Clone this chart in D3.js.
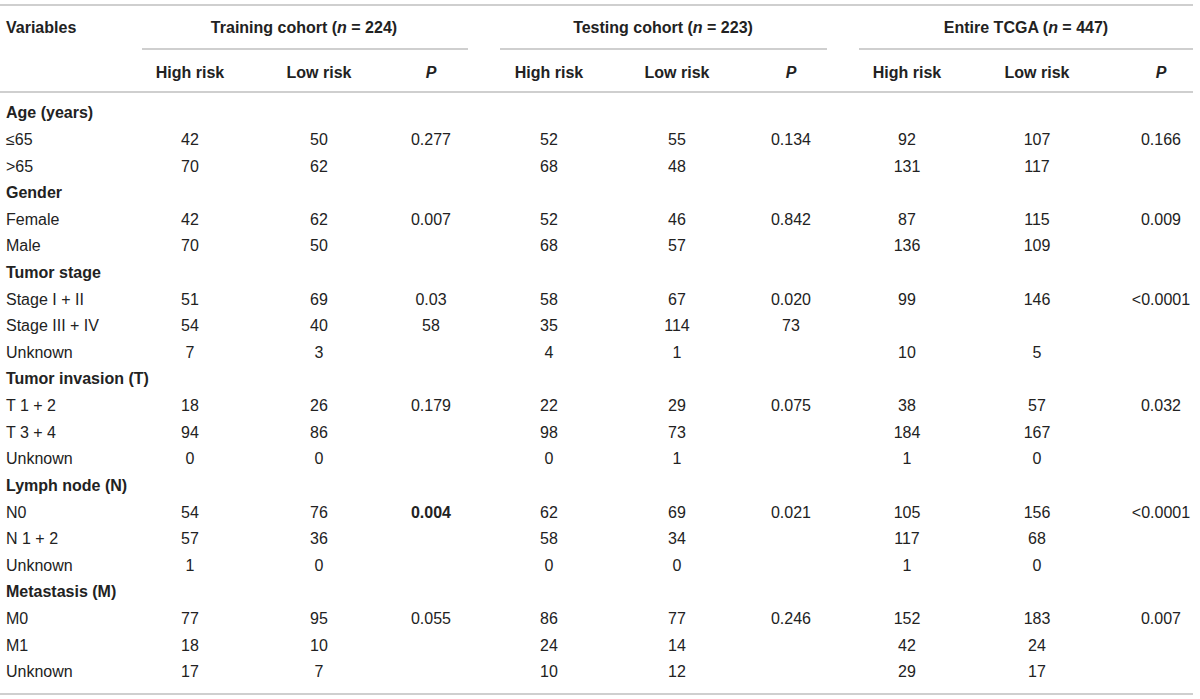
<!DOCTYPE html>
<html>
<head>
<meta charset="utf-8">
<script src="https://cdn.jsdelivr.net/npm/d3@7/dist/d3.min.js"></script>
<style>
  html, body { margin: 0; padding: 0; background: #fff; }
  svg { display: block; }
  text { font-family: "Liberation Sans", Arial, Helvetica, sans-serif; font-size: 16px; }
</style>
</head>
<body>
<svg id="chart" width="1200" height="699"></svg>
<script>
// ---- Data ----
const groups = ["Training cohort", "Testing cohort", "Entire TCGA"];
const groupN = [224, 223, 447];
const subHeaders = ["High risk", "Low risk", "P"];

const rowLabels = [
  "Age (years)", "≤65", ">65",
  "Gender", "Female", "Male",
  "Tumor stage", "Stage I + II", "Stage III + IV", "Unknown",
  "Tumor invasion (T)", "T 1 + 2", "T 3 + 4", "Unknown",
  "Lymph node (N)", "N0", "N 1 + 2", "Unknown",
  "Metastasis (M)", "M0", "M1", "Unknown"
];
const sectionRows = [0, 3, 6, 10, 14, 18];

// Each row: [high, low, P]
const training = [
  ["", "", ""], [42, 50, "0.277"], [70, 62, ""],
  ["", "", ""], [42, 62, "0.007"], [70, 50, ""],
  ["", "", ""], [51, 69, "0.03"], [54, 40, "58"], [7, 3, ""],
  ["", "", ""], [18, 26, "0.179"], [94, 86, ""], [0, 0, ""],
  ["", "", ""], [54, 76, "0.004"], [57, 36, ""], [1, 0, ""],
  ["", "", ""], [77, 95, "0.055"], [18, 10, ""], [17, 7, ""]
];
const testing = [
  ["", "", ""], [52, 55, "0.134"], [68, 48, ""],
  ["", "", ""], [52, 46, "0.842"], [68, 57, ""],
  ["", "", ""], [58, 67, "0.020"], [35, 114, "73"], [4, 1, ""],
  ["", "", ""], [22, 29, "0.075"], [98, 73, ""], [0, 1, ""],
  ["", "", ""], [62, 69, "0.021"], [58, 34, ""], [0, 0, ""],
  ["", "", ""], [86, 77, "0.246"], [24, 14, ""], [10, 12, ""]
];
const entire = [
  ["", "", ""], [92, 107, "0.166"], [131, 117, ""],
  ["", "", ""], [87, 115, "0.009"], [136, 109, ""],
  ["", "", ""], [99, 146, "<0.0001"], ["", "", ""], [10, 5, ""],
  ["", "", ""], [38, 57, "0.032"], [184, 167, ""], [1, 0, ""],
  ["", "", ""], [105, 156, "<0.0001"], [117, 68, ""], [1, 0, ""],
  ["", "", ""], [152, 183, "0.007"], [42, 24, ""], [29, 17, ""]
];
const boldCells = [{ group: 0, row: 15, col: 2 }];

// ---- Layout ----
const svg = d3.select("#chart");
const textColor = "#222";
const lineColor = "#cfcfcf";

const rowY = d3.scaleLinear().domain([0, rowLabels.length - 1]).range([112.7, 671.7]);
const colX = d3.scaleOrdinal()
  .domain(d3.range(9))
  .range([190, 319, 431, 549, 677, 791, 907, 1037, 1161]);
const groupSpan = d3.scaleOrdinal().domain([0, 1, 2])
  .range([[142, 468], [500, 827], [859, 1193]]);
const groupTitleX = d3.scaleOrdinal().domain([0, 1, 2]).range([304, 663, 1026]);

// horizontal rules
const rules = [{ y: 5, x1: 0, x2: 1193 }, { y: 92, x1: 0, x2: 1193 }, { y: 694, x1: 0, x2: 1193 }];
svg.selectAll("line.rule").data(rules).join("line")
  .attr("class", "rule")
  .attr("x1", d => d.x1).attr("x2", d => d.x2)
  .attr("y1", d => d.y).attr("y2", d => d.y)
  .attr("stroke", lineColor).attr("stroke-width", 2);

// group underlines
svg.selectAll("line.gline").data(groups).join("line")
  .attr("class", "gline")
  .attr("x1", (d, i) => groupSpan(i)[0]).attr("x2", (d, i) => groupSpan(i)[1])
  .attr("y1", 49).attr("y2", 49)
  .attr("stroke", lineColor).attr("stroke-width", 2);

// header "Variables"
svg.append("text").attr("x", 6).attr("y", 27).attr("dy", "0.35em")
  .attr("font-weight", "bold").attr("fill", textColor).text("Variables");

// group titles
const gt = svg.selectAll("text.gtitle").data(groups).join("text")
  .attr("class", "gtitle")
  .attr("x", (d, i) => groupTitleX(i)).attr("y", 27).attr("dy", "0.35em")
  .attr("text-anchor", "middle").attr("font-weight", "bold").attr("fill", textColor);
gt.append("tspan").text(d => d + " (");
gt.append("tspan").attr("font-style", "italic").text("n");
gt.append("tspan").text((d, i) => " = " + groupN[i] + ")");

// sub headers
const subData = [];
groups.forEach((g, gi) => subHeaders.forEach((s, si) => subData.push({ gi, si, s })));
svg.selectAll("text.sub").data(subData).join("text")
  .attr("class", "sub")
  .attr("x", d => colX(d.gi * 3 + d.si)).attr("y", 72).attr("dy", "0.35em")
  .attr("text-anchor", "middle").attr("font-weight", "bold")
  .attr("font-style", d => d.s === "P" ? "italic" : "normal")
  .attr("fill", textColor).text(d => d.s);

// row labels
svg.selectAll("text.rlabel").data(rowLabels).join("text")
  .attr("class", "rlabel")
  .attr("x", 6).attr("y", (d, i) => rowY(i)).attr("dy", "0.35em")
  .attr("font-weight", (d, i) => sectionRows.includes(i) ? "bold" : "normal")
  .attr("fill", textColor).text(d => d);

// cells
const cohorts = [training, testing, entire];
const cells = [];
cohorts.forEach((data, gi) => data.forEach((row, ri) => row.forEach((v, ci) => {
  if (v !== "") cells.push({ gi, ri, ci, v,
    bold: boldCells.some(b => b.group === gi && b.row === ri && b.col === ci) });
})));
svg.selectAll("text.cell").data(cells).join("text")
  .attr("class", "cell")
  .attr("x", d => colX(d.gi * 3 + d.ci)).attr("y", d => rowY(d.ri)).attr("dy", "0.35em")
  .attr("text-anchor", "middle")
  .attr("font-weight", d => d.bold ? "bold" : "normal")
  .attr("fill", textColor).text(d => d.v);
</script>
</body>
</html>
